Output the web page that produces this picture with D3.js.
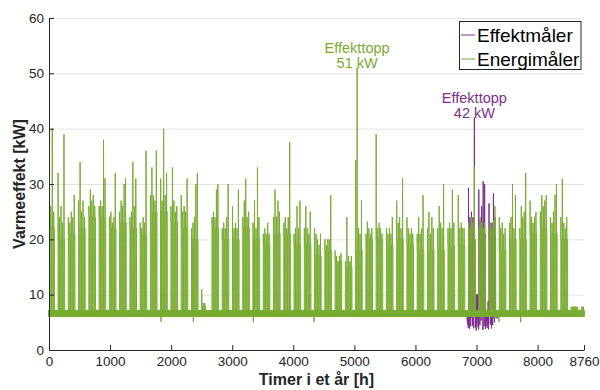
<!DOCTYPE html>
<html><head><meta charset="utf-8">
<script src="https://cdn.jsdelivr.net/npm/d3@7"></script>
<style>
body{margin:0;background:#fff}
svg{display:block}
text{font-family:"Liberation Sans",Arial,Helvetica,sans-serif}
</style>
</head><body><svg id="c" width="600" height="390"></svg>
<script>
// ---------------- DATA ----------------
const hoursInYear = 8760;
const xTicks = [0, 1000, 2000, 3000, 4000, 5000, 6000, 7000, 8000, 8760];
const yTicks = [0, 10, 20, 30, 40, 50, 60];
const seriesNames = ["Effektmåler", "Energimåler"];

// first Monday 00:00 (hour index) ; each week = 168 h, workdays Mon-Fri
const firstMonday = -24;
// Energimåler: typical daytime level per week [kW]
const weekLevel = [22,20,21,22,24,24,22,23,22,21,25,25,23,22,20,8,22,20,20,22,20,19,21,21,19,19,17,18,16,15,18,20,20,19,20,19,18,18,18,19,19,20,20,20,18,20,20,21,22,21,20,7.8,7.8];
// Energimåler: daily peak per workday (Mon..Fri) [kW], 0 = no heating that day
const dayPeaks = [
 [0,0,26,40,25],[32,24,26,23,39],[24,23,25,24,28],[27,34,25,27,24],[26,29,27,28,26],
 [26,27,26,38,31],[24,25,23,24,32],[25,27,26,30,31],[24,25,34,26,31],[23,22,24,23,36],
 [28,33,28,27,36],[31,27,40,28,32],[26,33,27,25,26],[28,25,26,25,31],[22,23,24,30,32],
 [11,8.5,8.5,0,0],[24,25,24,29,30],[22,23,22,24,30],[26,22,23,22,29],[24,27,31,24,25],
 [23,27,22,33,24],[21,22,21,23,21],[24,29,24,27,25],[23,24,22,24,37.6],[21,22,26,22,27],
 [22,26,22,21,25],[22,21,20,19,21],[20,19,20,20,28],[18,17,16,17,17.5],[16,24,17,16,17],
 [34.3,51,22,21,27],[21,23.2,22,21,22],[39,22,23,22,21],[22,21,22,21,24],[27,23,24,22,31],
 [24,22,21,22,21],[21,24,21,22,28],[22,25,21,24,22],[22,26,23,22,30],[22,23,22,29,23],
 [28,22,23,22,22],[23,22,24,23,33],[22,24,23,22,23],[22,23,22,23.5,26],[24,22,23,21,22],
 [23,24,30,22,28],[22,26,24,25,32],[27,24,23,24,25],[25,28,26,27,28],[24,23,25,28,30],
 [24,31,23,22,24],[7.8,7.8,7.8,7.8,7.8],[7.8,7.8,0,0,0]
];
// night / weekend base band [low, high] kW
const baseBand = [6.0, 7.2];
// single-hour dips below base [hour, kW]
const greenDips = [[1834,5.1],[2363,5.1],[3346,5.0],[4339,5.0],[7368,5.1],[7724,5.0]];

// Effektmåler (only measured for a short period)
const pRange = [6845, 7337];
const pWeeks = [41, 42, 43];
const pLevel = [20, 21, 20];
const pDayPeaks = [[29.3,24,25,24,42],[29,23.5,26,30.5,30],[26.5,22,23,28.3,24]];
const pBase = 6.4;
// night-time lows of Effektmåler, one every 10 h from pRange[0] [kW]
const pNightLows = [5.2,4.6,4.0,5.5,3.8,4.9,4.3,5.8,3.6,4.4,5.0,3.9,4.7,5.4,4.1,3.5,4.8,5.6,4.2,3.7,
                    5.1,4.5,3.9,5.3,4.0,4.6,3.6,5.0,4.3,5.7,3.8,4.4,5.2,4.0,4.8,3.7,5.5,4.1,4.6,5.0,
                    3.9,5.3,4.5,5.8,4.2,5.0,5.5,5.9,6.0,5.7];
const pBumps = [[6998, 7032, 10], [7182, 7200, 8.8]];

// ---------------- BUILD HOURLY SERIES ----------------
function dayShape(hod, P, L) {
  if (hod === 5) return P;
  if (hod === 6) return L + (P - L) * 0.35;
  if (hod >= 7 && hod <= 16) return L;
  return null;
}
function greenAt(h) {
  const t = h - firstMonday, k = Math.floor(t / 168), w = t - 168 * k;
  const d = Math.floor(w / 24), hod = w % 24;
  let v = baseBand[h % 2];
  if (d < 5 && dayPeaks[k] && dayPeaks[k][d] > 0) {
    const P = dayPeaks[k][d], L = Math.min(weekLevel[k], P);
    const s = dayShape(hod, P, L);
    if (s !== null) v = s;
  }
  return v;
}
function purpleAt(h) {
  const t = h - firstMonday, k = Math.floor(t / 168), w = t - 168 * k;
  const d = Math.floor(w / 24), hod = w % 24;
  const r = h - pRange[0];
  let v = pBase;
  if (r % 10 === 0) v = pNightLows[r / 10];
  const bump = pBumps.find(b => h >= b[0] && h <= b[1]);
  if (bump && r % 10 === 5) v = bump[2];
  const i = pWeeks.indexOf(k);
  if (i >= 0 && d < 5) {
    const P = pDayPeaks[i][d], L = Math.min(pLevel[i], P);
    const s = dayShape(hod, P, L);
    if (s !== null) v = s;
  }
  return v;
}
const green = d3.range(0, hoursInYear + 1).map(h => [h, greenAt(h)]);
greenDips.forEach(([h, v]) => { green[h][1] = v; });
const purple = d3.range(pRange[0], pRange[1] + 1).map(h => [h, purpleAt(h)]);

// ---------------- DRAW ----------------
const svg = d3.select('#c');
const x = d3.scaleLinear().domain([0, hoursInYear]).range([49, 584]);
const y = d3.scaleLinear().domain([0, 60]).range([350, 18]);
const axisColor = '#262626';
const colGreen = '#77AC30', colPurple = '#7E2F8E';

// grid
svg.append('g').selectAll('line').data(yTicks.filter(v => v > 0)).join('line')
  .attr('x1', x(0)).attr('x2', x(hoursInYear))
  .attr('y1', d => y(d) + 0.5).attr('y2', d => y(d) + 0.5)
  .attr('stroke', '#e3e3e3').attr('stroke-width', 1);

const line = d3.line().x(d => x(d[0])).y(d => y(d[1]));
svg.append('path').datum(purple).attr('d', line)
  .attr('fill', 'none').attr('stroke', colPurple).attr('stroke-width', 1);
svg.append('path').datum(green).attr('d', line)
  .attr('fill', 'none').attr('stroke', colGreen).attr('stroke-width', 1);

// axes
const gy = svg.append('g').attr('transform', `translate(${x(0)},0)`)
  .call(d3.axisLeft(y).tickValues(yTicks).tickSizeInner(-5).tickSizeOuter(0).tickPadding(5));
const gx = svg.append('g').attr('transform', `translate(0,${y(0)})`)
  .call(d3.axisBottom(x).tickValues(xTicks).tickFormat(d3.format('d')).tickSizeInner(-5).tickSizeOuter(0).tickPadding(6));
[gx, gy].forEach(g => {
  g.select('.domain').attr('stroke', axisColor).attr('stroke-width', 1);
  g.selectAll('.tick line').attr('stroke', axisColor);
  g.selectAll('.tick text').attr('fill', axisColor).style('font-size', '13.5px')
    .style('font-family', '"Liberation Sans",Arial,sans-serif');
});

// axis titles
svg.append('text').attr('transform', `translate(25,${(y(0) + y(60)) / 2}) rotate(-90)`)
  .attr('text-anchor', 'middle').style('font-weight', 'bold').style('font-size', '16px')
  .attr('fill', axisColor).text('Varmeeffekt [kW]');
svg.append('text').attr('x', (x(0) + x(hoursInYear)) / 2).attr('y', 385)
  .attr('text-anchor', 'middle').style('font-weight', 'bold').style('font-size', '16px')
  .attr('fill', axisColor).text('Timer i et år [h]');

// peak annotations
function annotate(series, color) {
  const pk = series.reduce((a, b) => (b[1] > a[1] ? b : a));
  const t = svg.append('text').attr('text-anchor', 'middle').style('font-size', '14.5px').attr('fill', color);
  t.append('tspan').attr('x', x(pk[0])).attr('y', y(pk[1]) - 14.5).text('Effekttopp');
  t.append('tspan').attr('x', x(pk[0])).attr('y', y(pk[1]) + 0.5).text(Math.round(pk[1]) + ' kW');
}
annotate(green, colGreen);
annotate(purple, colPurple);

// legend
const lg = svg.append('g');
lg.append('rect').attr('x', 459.5).attr('y', 21.5).attr('width', 121.5).attr('height', 48)
  .attr('fill', '#fff').attr('stroke', axisColor).attr('stroke-width', 1);
[colPurple, colGreen].forEach((c, i) => {
  const yy = 35 + i * 24;
  lg.append('line').attr('x1', 461).attr('x2', 475).attr('y1', yy).attr('y2', yy).attr('stroke', c).attr('stroke-width', 1);
  lg.append('text').attr('x', 477).attr('y', yy + 6.5).style('font-size', '19px').attr('fill', '#000').text(seriesNames[i]);
});
</script></body></html>
